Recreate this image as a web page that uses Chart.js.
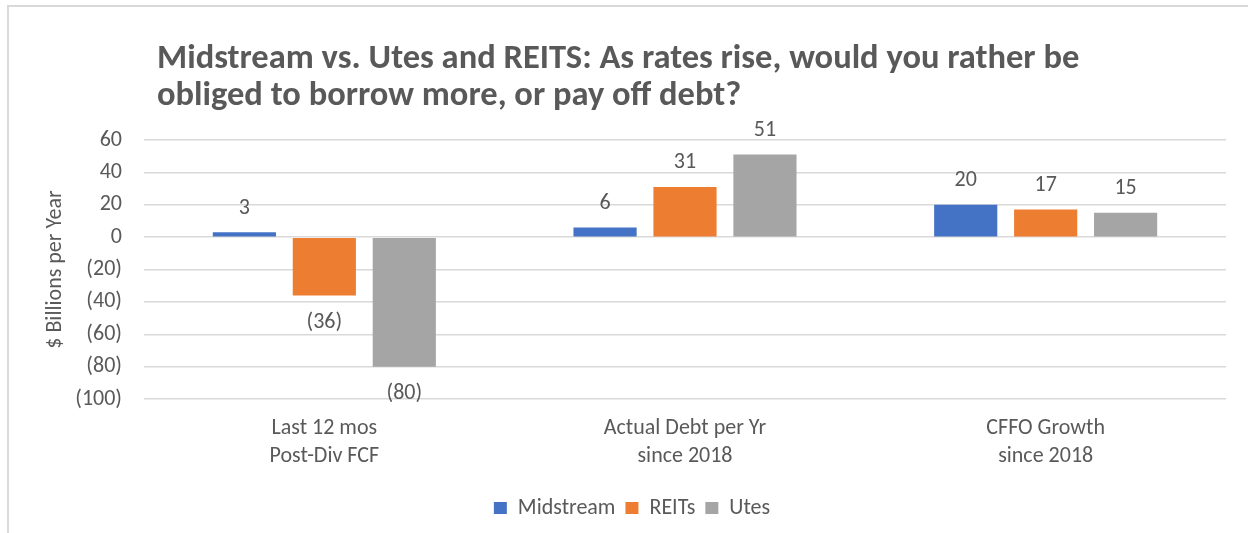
<!DOCTYPE html>
<html>
<head>
<meta charset="utf-8">
<title>Midstream vs. Utes and REITS</title>
<script src="https://cdn.jsdelivr.net/npm/chart.js@4.4.1/dist/chart.umd.min.js"></script>
<style>
  body { margin: 0; background: #fff; overflow: hidden; }
  #wrap { position: relative; width: 1248px; height: 533px; }
  #frame { position: absolute; left: 7px; top: 5px; right: -10px; bottom: -10px;
           border-left: 2px solid #d9d9d9; border-top: 2px solid #d9d9d9; }
  canvas { position: absolute; left: 0; top: 0; }
</style>
</head>
<body>
<div id="wrap">
  <div id="frame"></div>
  <canvas id="chart" width="1248" height="533"></canvas>
</div>
<script>
// chart data
const categories = [['Last 12 mos', 'Post-Div FCF'], ['Actual Debt per Yr', 'since 2018'], ['CFFO Growth', 'since 2018']];
const midstream = [3, 6, 20];
const reits = [-36, 31, 17];
const utes = [-80, 51, 15];
const titleLines = ['Midstream vs. Utes and REITS: As rates rise, would you rather be',
                    'obliged to borrow more, or pay off debt?'];

const FONT = 'Carlito, Lato, sans-serif';
const GREY = '#595959';
const SIZE = 22;

function fmt(v) {
  return v < 0 ? '(' + Math.abs(v) + ')' : String(v);
}

// title drawn at the left of the plot, like Excel does
const titlePlugin = {
  id: 'leftTitle',
  afterDraw(chart) {
    const ctx = chart.ctx;
    ctx.save();
    ctx.font = 'bold 34.5px ' + FONT;
    ctx.fillStyle = GREY;
    ctx.textAlign = 'left';
    ctx.textBaseline = 'alphabetic';
    ctx.fillText(titleLines[0], 157, 68);
    ctx.fillText(titleLines[1], 157, 105);
    ctx.restore();
  }
};

// value labels at the outer end of each bar
const valueLabels = {
  id: 'valueLabels',
  afterDatasetsDraw(chart) {
    const ctx = chart.ctx;
    ctx.save();
    ctx.font = SIZE + 'px ' + FONT;
    ctx.fillStyle = GREY;
    ctx.textAlign = 'center';
    ctx.textBaseline = 'middle';
    chart.data.datasets.forEach((ds, i) => {
      chart.getDatasetMeta(i).data.forEach((bar, j) => {
        const v = ds.data[j];
        const y = v < 0 ? bar.y + 27 : bar.y - 24;
        ctx.fillText(fmt(v), bar.x, y);
      });
    });
    ctx.restore();
  }
};

new Chart(document.getElementById('chart'), {
  type: 'bar',
  data: {
    labels: categories,
    datasets: [
      { label: 'Midstream', data: midstream, backgroundColor: '#4472C4' },
      { label: 'REITs', data: reits, backgroundColor: '#ED7D31' },
      { label: 'Utes', data: utes, backgroundColor: '#A5A5A5' }
    ]
  },
  options: {
    responsive: false,
    animation: false,
    categoryPercentage: 0.665,
    barPercentage: 0.79,
    layout: { padding: { left: 38, top: 140, right: 22, bottom: 4 } },
    plugins: {
      legend: {
        position: 'bottom',
        labels: {
          boxWidth: 13,
          boxHeight: 12,
          padding: 10,
          color: GREY,
          font: { family: FONT, size: SIZE }
        }
      },
      tooltip: { enabled: false }
    },
    scales: {
      x: {
        grid: { display: false },
        border: { display: false },
        ticks: {
          color: GREY,
          padding: 8,
          font: { family: FONT, size: SIZE, lineHeight: 1.27 }
        },
        afterFit(scale) { scale.height = 88; }
      },
      y: {
        min: -100,
        max: 60,
        border: { display: false },
        grid: { color: '#d9d9d9', lineWidth: 1.5, drawTicks: false },
        ticks: {
          stepSize: 20,
          padding: 22,
          color: GREY,
          font: { family: FONT, size: SIZE },
          callback: (v) => fmt(v)
        },
        title: {
          display: true,
          text: '$ Billions per Year',
          color: GREY,
          font: { family: FONT, size: SIZE }
        },
        afterFit(scale) { scale.width = 106; }
      }
    }
  },
  plugins: [titlePlugin, valueLabels]
});
</script>
</body>
</html>
